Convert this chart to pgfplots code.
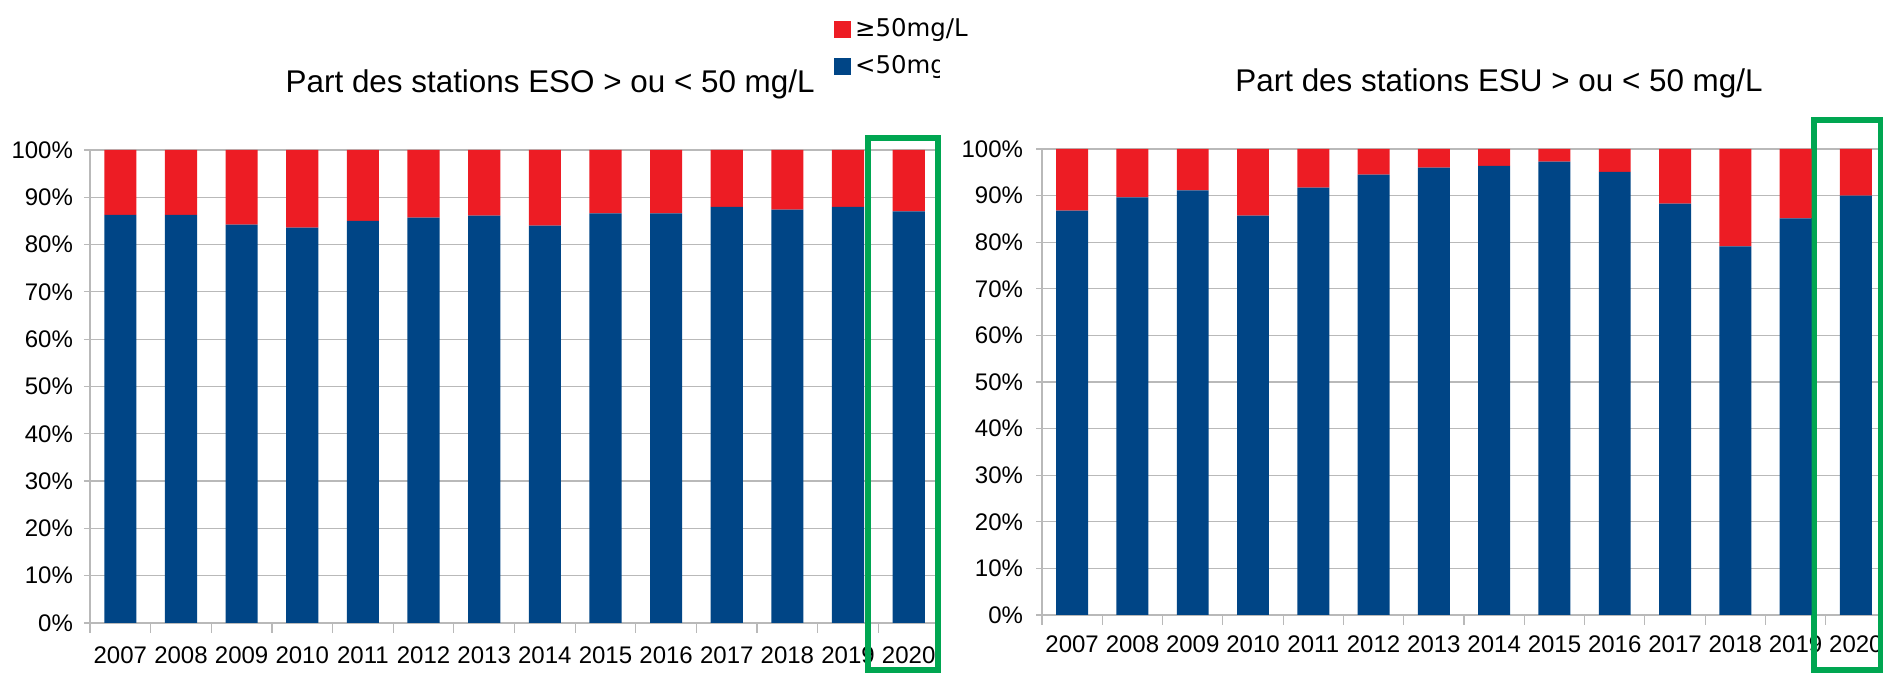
\documentclass[border=0pt]{standalone}
\usepackage{pgfplots}
\pgfplotsset{compat=1.18}
\usepackage{fontspec}
\setmainfont{Liberation Sans}
\newfontfamily\legfont{DejaVu Sans}
\definecolor{redc}{RGB}{237,28,36}
\definecolor{bluec}{RGB}{0,69,134}
\definecolor{greenc}{RGB}{0,166,81}
\definecolor{gridc}{RGB}{185,185,185}
\pgfplotsset{
 sqlegend/.style={legend image code/.code={\fill[##1] (0pt,-4.25pt) rectangle (8.5pt,4.25pt);}},
 mystyle/.style={
 scale only axis, ybar stacked, bar width=0.53,
 xmin=-0.5, xmax=13.5, ymin=0, ymax=100,
 xtick={0,1,2,3,4,5,6,7,8,9,10,11,12,13},
 xticklabels={2007,2008,2009,2010,2011,2012,2013,2014,2015,2016,2017,2018,2019,2020},
 major x tick style={draw=none},
 minor xtick={-0.5,0.5,...,13.5},
 ytick={0,10,...,100},
 yticklabel={\pgfmathprintnumber{\tick}\%},
 /pgf/number format/assume math mode=true,
 axis x line*=bottom, axis y line*=left,
 axis line style={gridc, line width=0.6pt, -},
 ymajorgrids, grid style={gridc, line width=0.6pt},
 tick align=outside,
 minor tick length=5pt, major tick length=3pt,
 minor tick style={gridc, line width=0.6pt},
 ytick style={gridc, line width=0.6pt},
 tick label style={font=\fontsize{12}{14}\selectfont, black},
 yticklabel style={xshift=-2pt},
 clip=false,
 title style={font=\fontsize{15.7}{18}\selectfont, anchor=center},
}}
\begin{document}
\begin{tikzpicture}
\path[use as bounding box] (0,0) rectangle (941.5pt,336.5pt);
% Left chart: ESO
\begin{axis}[mystyle, at={(45pt,25pt)}, anchor=south west,
  width=424.5pt, height=236.5pt,
  xticklabel style={yshift=-5.5pt},
  title={Part des stations ESO > ou < 50 mg/L},
  title style={at={(0.542,1.114)}},
  legend style={at={(0.876,1.287)}, anchor=north west, draw=none, fill=none,
    font=\legfont\fontsize{12.2}{14}\selectfont, row sep=4pt, inner sep=0pt,
    nodes={inner sep=2pt}},
  legend cell align=left, reverse legend]
\addplot[fill=bluec, draw=none, sqlegend] coordinates {
(0,86.3) (1,86.3) (2,84.2) (3,83.6) (4,85.0) (5,85.7) (6,86.1)
(7,84.0) (8,86.6) (9,86.6) (10,88.0) (11,87.4) (12,88.0) (13,87.0)};
\addlegendentry{<50mg/L}
\addplot[fill=redc, draw=none, sqlegend] coordinates {
(0,13.7) (1,13.7) (2,15.8) (3,16.4) (4,15.0) (5,14.3) (6,13.9)
(7,16.0) (8,13.4) (9,13.4) (10,12.0) (11,12.6) (12,12.0) (13,13.0)};
\addlegendentry{≥50mg/L}
\draw[greenc, line width=3pt] (axis cs:12.33,102.5) rectangle (axis cs:13.48,-9.9);
\end{axis}
% Right chart: ESU
\begin{axis}[mystyle, at={(521pt,29pt)}, anchor=south west,
  width=422pt, height=233pt,
  xticklabel style={yshift=-4pt},
  yticklabel style={xshift=-1pt},
  title={Part des stations ESU > ou < 50 mg/L},
  title style={at={(0.5415,1.114)}}]
\addplot[fill=bluec, draw=none] coordinates {
(0,86.8) (1,89.6) (2,91.1) (3,85.7) (4,91.7) (5,94.5) (6,96.0)
(7,96.4) (8,97.3) (9,95.1) (10,88.3) (11,79.1) (12,85.1) (13,90.0)};
\addplot[fill=redc, draw=none] coordinates {
(0,13.2) (1,10.4) (2,8.9) (3,14.3) (4,8.3) (5,5.5) (6,4.0)
(7,3.6) (8,2.7) (9,4.9) (10,11.7) (11,20.9) (12,14.9) (13,10.0)};
\draw[greenc, line width=3pt] (axis cs:12.30,106.2) rectangle (axis cs:13.41,-11.8);
\end{axis}
\fill[white] (470pt,290pt) rectangle (520pt,313pt);
\end{tikzpicture}
\end{document}
